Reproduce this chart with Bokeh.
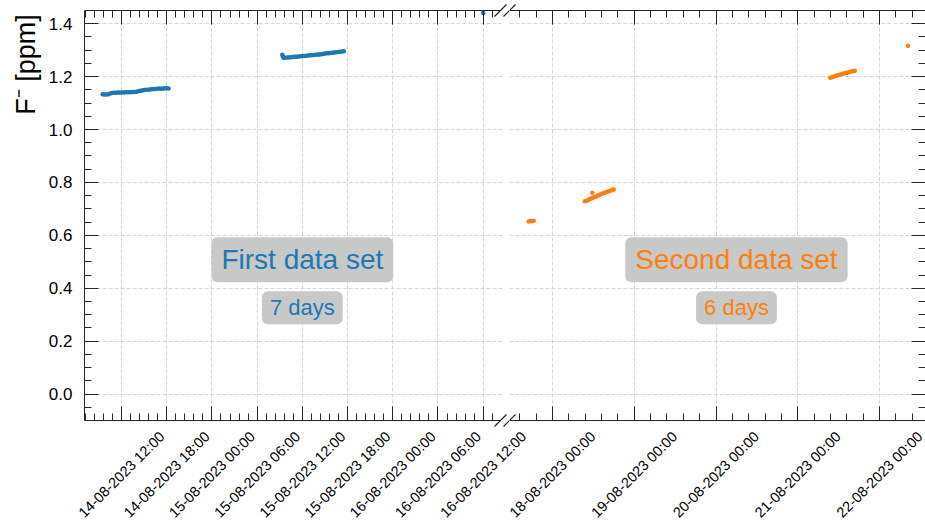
import pandas as pd
from math import pi
from bokeh.plotting import figure
from bokeh.layouts import row, column
from bokeh.models import (Range1d, DatetimeAxis, LinearAxis, SingleIntervalTicker, Grid,
                          NumeralTickFormatter, Label, LabelSet, ColumnDataSource, Arrow,
                          BoxAnnotation)
from bokeh.core.properties import value
from bokeh.embed import file_html
from bokeh.resources import INLINE

BLUE = "#1f77b4"
ORANGE = "#ff7f0e"
INK = "#262626"
FONT = "Liberation Sans"

# ---------------- data ----------------
# First data set (blue)
set1_a_day = "2023-08-14"
set1_a_clock = ["09:30", "09:45", "10:00", "10:15", "10:30", "10:45", "11:00", "11:15", "11:30",
                "11:45", "12:00", "12:15", "12:30", "12:45", "13:00", "13:15", "13:30", "13:45",
                "14:00", "14:15", "14:30", "14:45", "15:00", "15:15", "15:30", "15:45", "16:00",
                "16:15", "16:30", "16:45", "17:00", "17:15", "17:30", "17:45", "18:00", "18:15"]
set1_a_ppm = [1.133, 1.132, 1.132, 1.133, 1.136, 1.138, 1.139, 1.139, 1.140,
              1.140, 1.140, 1.140, 1.141, 1.141, 1.141, 1.141, 1.142, 1.142,
              1.143, 1.145, 1.147, 1.148, 1.149, 1.150, 1.150, 1.151, 1.152,
              1.153, 1.153, 1.154, 1.155, 1.154, 1.155, 1.156, 1.156, 1.155]

set1_b_day = "2023-08-15"
set1_b_clock = ["09:20", "09:25", "09:30", "09:45", "10:00", "10:15", "10:30", "10:45", "11:00",
                "11:15", "11:30", "11:45", "12:00", "12:15", "12:30", "12:45", "13:00", "13:15",
                "13:30", "13:45", "14:00", "14:15", "14:30", "14:45", "15:00", "15:15", "15:30",
                "15:45", "16:00", "16:15", "16:30", "16:45", "17:00", "17:15", "17:30"]
set1_b_ppm = [1.283, 1.277, 1.271, 1.271, 1.272, 1.272, 1.273, 1.274, 1.275,
              1.275, 1.276, 1.277, 1.278, 1.278, 1.279, 1.280, 1.281, 1.281,
              1.282, 1.283, 1.284, 1.284, 1.285, 1.286, 1.287, 1.288, 1.288,
              1.289, 1.290, 1.291, 1.292, 1.293, 1.294, 1.295, 1.296]

set1_c_time = ["2023-08-16 12:00"]
set1_c_ppm = [1.441]

# Second data set (orange)
set2_a_day = "2023-08-17"
set2_a_clock = ["17:00", "17:30", "18:00", "18:30"]
set2_a_ppm = [0.652, 0.654, 0.653, 0.655]

set2_b_day = "2023-08-18"
set2_b_clock = ["09:30", "10:00", "10:30", "11:00", "11:30", "12:00", "12:30", "13:00", "13:30",
                "14:00", "14:30", "15:00", "15:30", "16:00", "16:30", "17:00", "17:30", "18:00"]
set2_b_ppm = [0.729, 0.731, 0.734, 0.737, 0.740, 0.743, 0.746, 0.748, 0.751,
              0.754, 0.757, 0.759, 0.762, 0.764, 0.767, 0.769, 0.772, 0.773]

set2_c_time = ["2023-08-18 11:40"]
set2_c_ppm = [0.761]

set2_d_day = "2023-08-21"
set2_d_clock = ["09:30", "10:00", "10:30", "11:00", "11:30", "12:00", "12:30", "13:00",
                "13:30", "14:00", "14:30", "15:00", "15:30", "16:00", "16:30", "16:45"]
set2_d_ppm = [1.196, 1.198, 1.200, 1.202, 1.204, 1.206, 1.208, 1.210,
              1.212, 1.214, 1.215, 1.217, 1.218, 1.220, 1.221, 1.222]

set2_e_time = ["2023-08-22 08:20"]
set2_e_ppm = [1.317]

# tick labels of the two broken x-axis parts
left_tick_times = ["2023-08-14 12:00", "2023-08-14 18:00", "2023-08-15 00:00", "2023-08-15 06:00",
                   "2023-08-15 12:00", "2023-08-15 18:00", "2023-08-16 00:00", "2023-08-16 06:00",
                   "2023-08-16 12:00"]
right_tick_times = ["2023-08-18 00:00", "2023-08-19 00:00", "2023-08-20 00:00",
                    "2023-08-21 00:00", "2023-08-22 00:00"]

left_xlim = ("2023-08-14 07:05", "2023-08-16 14:18")
right_xlim = ("2023-08-17 11:23", "2023-08-22 13:29")
ylim = (-0.1, 1.45)

ylabel_text = "F\u207b [ppm]"
set1_title, set1_days = "First data set", "7 days"
set2_title, set2_days = "Second data set", "6 days"
set1_text_x = "2023-08-15 12:00"
set2_text_x = "2023-08-20 06:00"


def ms(t):
    return pd.Timestamp(t).value / 1e6


def times(day, clocks):
    return pd.to_datetime([f"{day} {c}" for c in clocks])


# ---------------- geometry ----------------
W = 925
YLAB_W = 44          # strip holding the y-axis title
AX_L = 84            # left spine
PANEL_W = 416        # width of each broken part
GAP = 9              # gap between the parts
TOP = 3              # frame top (axis line sits 7px lower)
EXT = 7              # frame extension beyond the axes (room for break marks)
AXIS_H = 410         # distance between top and bottom spines
MAIN_H = TOP + AXIS_H + 2 * EXT + 1
STRIP_H = 522 - MAIN_H

ypx = (ylim[1] - ylim[0]) / AXIS_H
yr = Range1d(ylim[0] - EXT * ypx, ylim[1] + EXT * ypx)

L0, L1 = ms(left_xlim[0]), ms(left_xlim[1])
mspxL = (L1 - L0) / PANEL_W
R0, R1 = ms(right_xlim[0]), ms(right_xlim[1])
RIGHT_W = W - AX_L - PANEL_W - GAP
mspxR = (R1 - R0) / RIGHT_W


def style_axis(ax):
    ax.axis_line_color = INK
    ax.axis_line_width = 1
    ax.major_tick_in = 14
    ax.major_tick_out = 0
    ax.minor_tick_in = 7
    ax.minor_tick_out = 0
    ax.major_tick_line_color = INK
    ax.minor_tick_line_color = INK
    ax.major_label_text_color = None
    ax.axis_label = None


def bare_fig(width, height, x_range, y_range, **kw):
    return figure(width=width, height=height, x_range=x_range, y_range=y_range,
                  x_axis_type=None, y_axis_type=None, toolbar_location=None,
                  output_backend="svg", outline_line_color=None,
                  background_fill_color="white", border_fill_color="white", **kw)


def make_fig(x0, x1, xbounds, width, bl, x_interval):
    p = bare_fig(width, MAIN_H, Range1d(x0, x1), yr, min_border_left=bl, min_border_right=0,
                 min_border_top=TOP, min_border_bottom=1)
    xt = SingleIntervalTicker(interval=x_interval, num_minor_ticks=5)
    yt = SingleIntervalTicker(interval=0.2, num_minor_ticks=4)
    for side, loc in (("below", ylim[0]), ("above", ylim[1])):
        ax = DatetimeAxis(ticker=xt, fixed_location=loc, bounds=xbounds)
        style_axis(ax)
        p.add_layout(ax, side)
    p.add_layout(Grid(dimension=0, ticker=xt, grid_line_color="#d6d6d6",
                      grid_line_dash="4 2", grid_line_width=1))
    p.add_layout(Grid(dimension=1, ticker=yt, grid_line_color="#d6d6d6",
                      grid_line_dash="4 2", grid_line_width=1))
    # keep the grid inside the spines
    p.add_layout(BoxAnnotation(bottom=ylim[1] + 1.5 * ypx, fill_color="white", fill_alpha=1,
                               line_color=None))
    p.add_layout(BoxAnnotation(top=ylim[0] - 1.5 * ypx, fill_color="white", fill_alpha=1,
                               line_color=None))
    return p, yt


def break_mark(p, xc, mspx):
    for yc in ylim:
        p.add_layout(Arrow(start=None, end=None,
                           x_start=xc - 6 * mspx, y_start=yc - 6 * ypx,
                           x_end=xc + 6 * mspx, y_end=yc + 6 * ypx,
                           line_color=INK, line_width=1.2))


def box_label(p, x, y, text, size, color, pad):
    p.add_layout(Label(x=ms(x), y=y, text=text, text_align="center", text_baseline="middle",
                       text_font=FONT, text_font_size=size, text_color=color,
                       background_fill_color="#c6c9c8", background_fill_alpha=1.0,
                       border_line_color=None, padding=pad, border_radius=6))


# ---------------- y-axis title ----------------
pY = bare_fig(YLAB_W, MAIN_H, Range1d(0, YLAB_W), yr, min_border=0)
pY.add_layout(Label(x=25, y=1.246, text=ylabel_text, angle=pi / 2, text_align="center",
                    text_baseline="middle", text_font=FONT, text_font_size="27px",
                    text_color="black"))

# ---------------- left part ----------------
L1ext = L1 + GAP * mspxL
pL, ytL = make_fig(L0, L1ext, (L0, L1), AX_L - YLAB_W + PANEL_W + GAP, AX_L - YLAB_W,
                   6 * 3600 * 1000)
pL.add_layout(BoxAnnotation(left=L1 + 1.5 * mspxL, fill_color="white", fill_alpha=1,
                            line_color=None))
yax = LinearAxis(ticker=ytL, formatter=NumeralTickFormatter(format="0.0"), bounds=ylim)
style_axis(yax)
yax.major_label_text_color = "black"
yax.major_label_text_font = FONT
yax.major_label_text_font_size = "17px"
yax.major_label_standoff = 12
pL.add_layout(yax, "left")

for d, c, v in [(set1_a_day, set1_a_clock, set1_a_ppm), (set1_b_day, set1_b_clock, set1_b_ppm)]:
    pL.scatter(times(d, c), v, size=4.5, fill_color=BLUE, line_color=None)
pL.scatter(pd.to_datetime(set1_c_time), set1_c_ppm, size=4.5, fill_color=BLUE, line_color=None)

break_mark(pL, L1, mspxL)
break_mark(pL, L1ext, mspxL)
box_label(pL, set1_text_x, 0.508, set1_title, "28px", BLUE, (10, 7))
box_label(pL, set1_text_x, 0.326, set1_days, "22px", BLUE, (8, 4))

# ---------------- right part ----------------
pR, ytR = make_fig(R0, R1, (R0, R1), RIGHT_W, 0, 24 * 3600 * 1000)
rax = LinearAxis(ticker=ytR, bounds=ylim)
style_axis(rax)
pR.add_layout(rax, "right")

for d, c, v in [(set2_a_day, set2_a_clock, set2_a_ppm), (set2_b_day, set2_b_clock, set2_b_ppm),
                (set2_d_day, set2_d_clock, set2_d_ppm)]:
    pR.scatter(times(d, c), v, size=4.5, fill_color=ORANGE, line_color=None)
for t, v in [(set2_c_time, set2_c_ppm), (set2_e_time, set2_e_ppm)]:
    pR.scatter(pd.to_datetime(t), v, size=4.5, fill_color=ORANGE, line_color=None)

break_mark(pR, R0, mspxR)
box_label(pR, set2_text_x, 0.508, set2_title, "28px", ORANGE, (10, 7))
box_label(pR, set2_text_x, 0.326, set2_days, "22px", ORANGE, (8, 4))

# ---------------- strip with the rotated tick labels ----------------
strip_top = ylim[0] - (MAIN_H - TOP - EXT - AXIS_H) * ypx
strip = bare_fig(W, STRIP_H, Range1d(0, W), Range1d(strip_top - STRIP_H * ypx, strip_top),
                 min_border=0,
                 extra_x_ranges={"L": Range1d(L0 - AX_L * mspxL, L0 + (W - AX_L) * mspxL),
                                 "R": Range1d(R0 - (AX_L + PANEL_W + GAP) * mspxR,
                                              R0 + RIGHT_W * mspxR)})
for name, tt in (("L", left_tick_times), ("R", right_tick_times)):
    t = pd.to_datetime(tt)
    src = ColumnDataSource(dict(x=t, y=[ylim[0] - 54 * ypx] * len(t),
                                text=[d.strftime("%d-%m-%Y %H:%M") for d in t]))
    strip.add_layout(LabelSet(x="x", y="y", text="text", source=src, x_range_name=name,
                              angle=pi / 4, text_align="center", text_baseline="middle",
                              text_font=value(FONT), text_font_size="14.5px",
                              text_color="black"))

layout = column(row(pY, pL, pR), strip)
open("out.html", "w").write(file_html(layout, INLINE))
